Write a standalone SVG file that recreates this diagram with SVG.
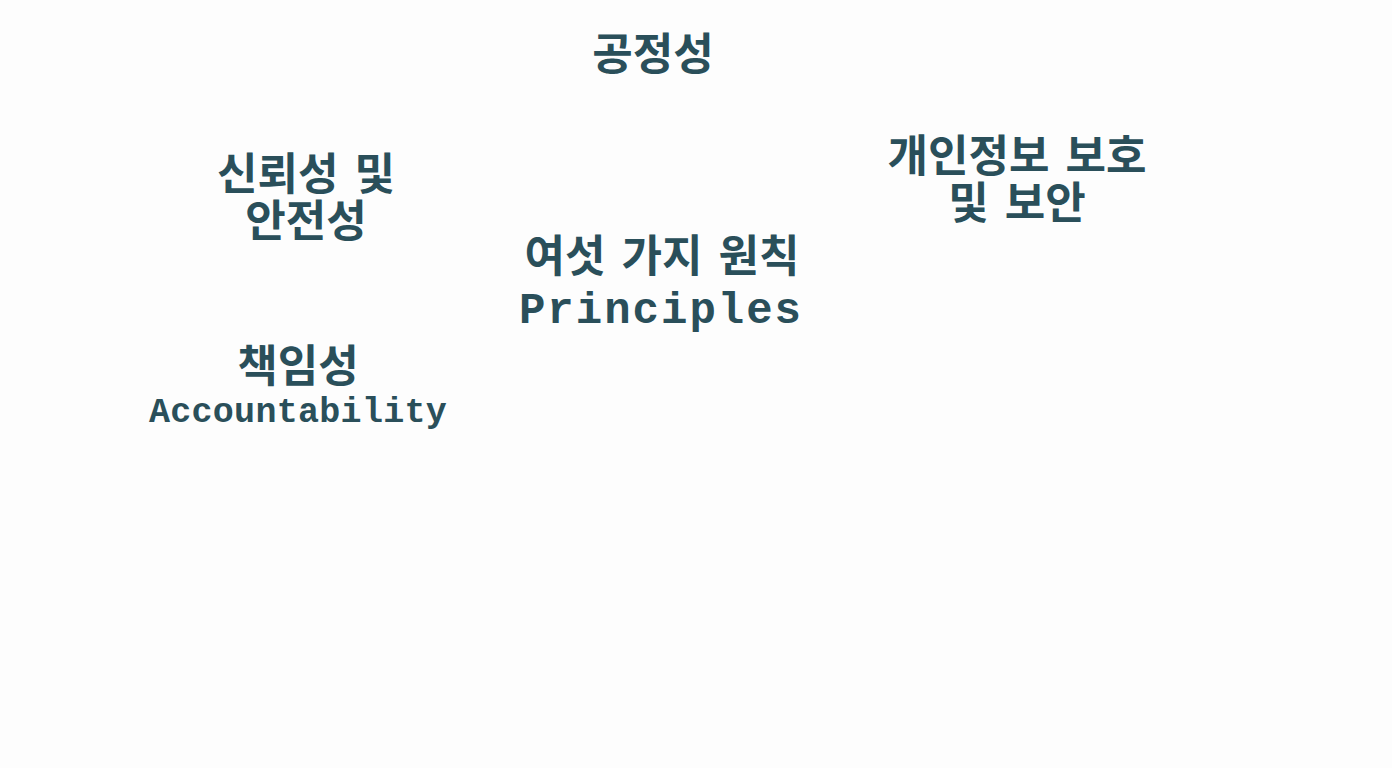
<svg xmlns="http://www.w3.org/2000/svg" width="1392" height="768" viewBox="0 0 1392 768">
<style>
.ko{font-family:"Noto Sans CJK KR","Noto Sans",sans-serif;font-weight:bold;font-size:44px;fill:#2a4f5a;text-anchor:middle;word-spacing:6px}
.en{font-family:"Liberation Mono","Courier New",monospace;font-weight:bold;fill:#2a4f5a;text-anchor:middle}
</style>
<rect width="1392" height="768" fill="#fdfdfd"/>
<g id="center">
<text class="ko" x="662" y="272" word-spacing="8">여섯 가지 원칙</text>
<text class="en" x="661" y="323" font-size="44" letter-spacing="2">Principles</text>
</g>
<g id="fairness">
<text class="ko" x="653" y="70">공정성</text>
</g>
<g id="reliability">
<text class="ko"><tspan x="306" y="190">신뢰성 및</tspan><tspan x="306" y="237">안전성</tspan></text>
</g>
<g id="privacy">
<text class="ko"><tspan x="1017" y="172">개인정보 보호</tspan><tspan x="1017" y="219">및 보안</tspan></text>
</g>
<g id="accountability">
<text class="ko" x="298" y="382">책임성</text>
<text class="en" x="298" y="422" font-size="35" letter-spacing="0.3">Accountability</text>
</g>
<g id="connectors"></g>
</svg>
